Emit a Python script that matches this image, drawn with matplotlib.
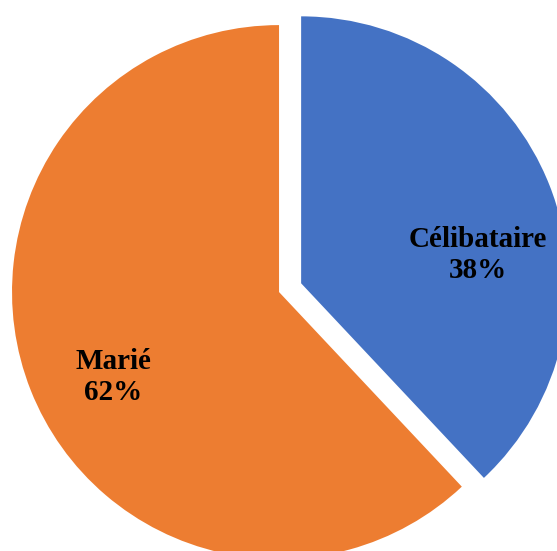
import matplotlib
matplotlib.use("Agg")
import matplotlib.pyplot as plt

plt.rcParams["font.family"] = ["Liberation Serif", "DejaVu Serif"]

labels = ["Célibataire", "Marié"]
values = [38, 62]
colors = ["#4472C4", "#ED7D31"]
explode = [0.089, 0]

# label anchor points (data units, radius = 1)
label_pos = [(0.745, 0.139), (-0.622, -0.318)]

fig = plt.figure(figsize=(5.57, 5.51), dpi=100)
ax = fig.add_axes([0, 0, 1, 1])

wedges, _ = ax.pie(values, colors=colors, explode=explode, startangle=90,
                   counterclock=False, radius=1.0)

for lab, val, (x, y) in zip(labels, values, label_pos):
    ax.text(x, y, f"{lab}\n{val}%", ha="center", va="center",
            fontsize=21, fontweight="bold", linespacing=1.2)

ax.set_xlim(-1.045, 1.041)
ax.set_ylim(-0.970, 1.094)
ax.set_aspect("auto")
ax.axis("off")

fig.savefig("out.png", dpi=100)
